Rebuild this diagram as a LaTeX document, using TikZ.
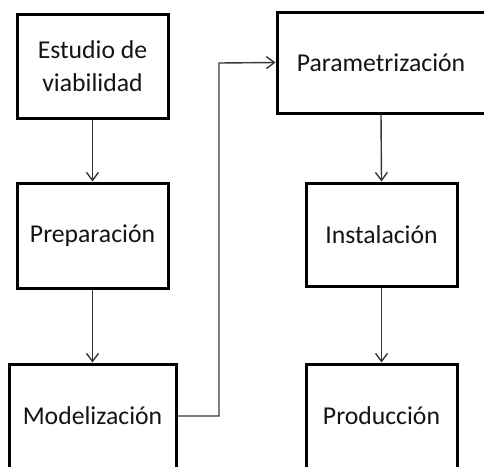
\documentclass[tikz,border=0pt]{standalone}
\usepackage{fontspec}
\setmainfont{Carlito}
\usetikzlibrary{arrows.meta}
\definecolor{txt}{HTML}{141414}
\definecolor{conn}{HTML}{383838}
\tikzset{
  box/.style={draw=black, line width=3pt, fill=white, inner sep=0pt,
    text=txt, align=center, font=\fontsize{25.7}{33}\selectfont},
  conn/.style={draw=conn, line width=1.4pt, -{Straight Barb[length=8pt,width=12pt,line width=1.4pt]}},
}
\begin{document}
\begin{tikzpicture}[x=1pt,y=-1pt]
\useasboundingbox (0,0) rectangle (484,466);
\fill[white] (0,0) rectangle (484,466);
\begin{scope}
\clip (0,0) rectangle (484,466);
\node[box, minimum width=151pt, minimum height=104pt] (est) at (92.5,66) {Estudio de\\viabilidad};
\node[box, minimum width=151pt, minimum height=105pt] (prep) at (92.5,235.5) {Preparación};
\node[box, minimum width=167pt, minimum height=104pt] (mod) at (92.5,416) {Modelización};
\node[box, minimum width=208pt, minimum height=101pt] (par) at (381,62.5) {Parametrización};
\node[box, minimum width=151pt, minimum height=103pt] (ins) at (381.5,234.5) {Instalación};
\node[box, minimum width=151pt, minimum height=104pt] (pro) at (381.5,416) {Producción};
\coordinate (c1) at (219,416);
\coordinate (c2) at (219,63);
\draw[conn] (est.south) -- (prep.north);
\draw[conn] (prep.south) -- (mod.north);
\draw[conn] (mod.east) -- (c1) -- (c2) -- (par.west);
\draw[conn] (par.south) -- (ins.north);
\draw[conn] (ins.south) -- (pro.north);
\end{scope}
\end{tikzpicture}
\end{document}
